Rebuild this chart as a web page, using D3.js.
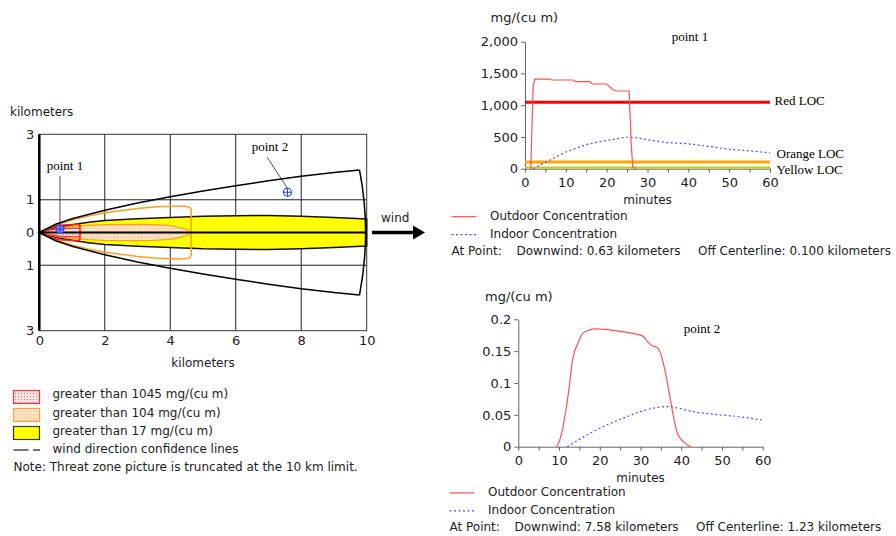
<!DOCTYPE html>
<html>
<head>
<meta charset="utf-8">
<script src="https://cdn.jsdelivr.net/npm/d3@7"></script>
<style>
body { margin: 0; background: #fff; }
svg { display: block; }
text { font-family: "DejaVu Sans", sans-serif; fill: #222; }
.serif { font-family: "Liberation Serif", "Times New Roman", serif; font-size: 13px; fill: #000; }
</style>
</head>
<body>
<svg id="chart" width="896" height="536"></svg>
<script>
// threat zone map (km)
const kmTicks = [0, 2, 4, 6, 8, 10];
const crossTicks = [-3, -1, 0, 1, 3];
const gridX = [2, 4, 6, 8];
const gridY = [-1, 1];
const confX = [0, 0.5, 1, 2, 3, 4, 5, 6, 7, 8, 9, 9.78];
const confY = [0, 0.25, 0.42, 0.68, 0.9, 1.09, 1.27, 1.43, 1.58, 1.72, 1.83, 1.91];
const yellowX = [0, 0.3, 0.6, 1, 1.5, 2, 3, 4, 5, 6, 7, 8, 9, 10];
const yellowY = [0, 0.1, 0.17, 0.24, 0.31, 0.37, 0.42, 0.46, 0.5, 0.51, 0.52, 0.5, 0.46, 0.41];
const orangeOutX = [0, 0.5, 1, 1.5, 2, 3, 3.5, 4, 4.45, 4.6, 4.64];
const orangeOutY = [0, 0.22, 0.38, 0.5, 0.6, 0.73, 0.78, 0.8, 0.8, 0.77, 0.7];
const orangeInX = [0, 0.5, 1, 1.5, 2, 3, 3.5, 4, 4.3, 4.55, 4.64];
const orangeInY = [0, 0.12, 0.18, 0.22, 0.24, 0.25, 0.24, 0.21, 0.15, 0.07, 0];
const redOutX = [0, 0.2, 0.4, 0.6, 0.9, 1.2, 1.24];
const redOutY = [0, 0.1, 0.17, 0.22, 0.24, 0.25, 0.22];
const redInX = [0, 0.3, 0.6, 1, 1.22, 1.24];
const redInY = [0, 0.07, 0.11, 0.13, 0.13, 0.1];
const pointNames = ['point 1', 'point 2'];
const pointDown = [0.63, 7.58];
const pointOff = [0.1, 1.23];

// point 1 concentration (mg/(cu m))
const out1T = [1.4, 2.0, 2.4, 6.1, 6.5, 11.8, 12.4, 15.9, 16.5, 20.0, 21.6, 22.2, 25.5, 26.0, 26.4, 27.2];
const out1V = [0, 1300, 1412, 1412, 1397, 1397, 1370, 1370, 1334, 1334, 1240, 1224, 1224, 400, 30, 0];
const in1T = [2.0, 5, 10, 15, 20, 24.5, 26, 28.6, 30, 35, 40, 45, 50, 55, 60];
const in1V = [0, 100, 263, 380, 445, 495, 497, 474, 455, 410, 392, 352, 305, 280, 252];
const locNames = ['Red LOC', 'Orange LOC', 'Yellow LOC'];
const locValues = [1045, 104, 17];

// point 2 concentration
const out2T = [9.4, 10.3, 11.7, 12.5, 13.3, 14.6, 15.8, 17.4, 19.1, 24, 28, 30.5, 32, 33, 34, 35, 36, 37.2, 38.1, 39, 40.5, 42.3];
const out2V = [0, 0.013, 0.058, 0.094, 0.136, 0.162, 0.178, 0.183, 0.185, 0.182, 0.178, 0.174, 0.163, 0.158, 0.156, 0.145, 0.12, 0.079, 0.047, 0.022, 0.008, 0];
const in2T = [12, 17.6, 21.7, 26.6, 31.5, 36.4, 38, 43, 48, 54.4, 59.7];
const in2V = [0, 0.021, 0.034, 0.047, 0.058, 0.063, 0.062, 0.055, 0.051, 0.047, 0.042];

const legendLabels = ['greater than 1045 mg/(cu m)', 'greater than 104 mg/(cu m)', 'greater than 17 mg/(cu m)',
  'wind direction confidence lines', 'Note: Threat zone picture is truncated at the 10 km limit.'];

const svg = d3.select('#chart');

// fill patterns
const defs = svg.append('defs');
function dots(id, bg, dot) {
  const p = defs.append('pattern').attr('id', id).attr('patternUnits', 'userSpaceOnUse')
    .attr('width', 3).attr('height', 3);
  p.append('rect').attr('width', 3).attr('height', 3).attr('fill', bg);
  p.append('rect').attr('width', 1).attr('height', 1).attr('fill', dot);
}
dots('redDots', '#ffe6e6', '#ff6b6b');
dots('orangeDots', '#ffe2c4', '#ffb77a');

// ---------- map ----------
const xMap = d3.scaleLinear().domain([0, 10]).range([39.3, 366.7]);
const yMap = d3.scaleLinear().domain([-3, 3]).range([330.7, 134.3]);
const map = svg.append('g');

map.selectAll('.gx').data(gridX).join('line')
  .attr('x1', d => xMap(d)).attr('x2', d => xMap(d))
  .attr('y1', yMap(3)).attr('y2', yMap(-3)).attr('stroke', '#222');
map.selectAll('.gy').data(gridY).join('line')
  .attr('x1', xMap(0)).attr('x2', xMap(10))
  .attr('y1', d => yMap(d)).attr('y2', d => yMap(d)).attr('stroke', '#222');
map.append('rect').attr('x', xMap(0)).attr('y', yMap(3))
  .attr('width', xMap(10) - xMap(0)).attr('height', yMap(-3) - yMap(3))
  .attr('fill', 'none').attr('stroke', '#333');

const line = d3.line().x(d => xMap(d[0])).y(d => yMap(d[1]));
function band(xs, ys) {
  const up = xs.map((x, i) => [x, ys[i]]);
  const down = xs.map((x, i) => [x, -ys[i]]).reverse();
  return line(up.concat(down)) + 'Z';
}

map.append('path').attr('d', band(yellowX, yellowY))
  .attr('fill', '#ffff00').attr('stroke', '#111').attr('stroke-width', 1.5);
map.append('path').attr('d', band(orangeOutX, orangeOutY))
  .attr('fill', 'none').attr('stroke', '#ff9f1c').attr('stroke-width', 1.5);
map.append('path').attr('d', band(orangeInX, orangeInY))
  .attr('fill', 'url(#orangeDots)').attr('stroke', '#ff9f1c').attr('stroke-width', 1.2);
map.append('path').attr('d', band(redOutX, redOutY))
  .attr('fill', 'none').attr('stroke', '#ff1a1a').attr('stroke-width', 1.5);
map.append('path').attr('d', band(redInX, redInY))
  .attr('fill', 'url(#redDots)').attr('stroke', '#ff1a1a').attr('stroke-width', 1.2);

// centerline
map.append('line').attr('x1', xMap(0)).attr('x2', xMap(10))
  .attr('y1', yMap(0)).attr('y2', yMap(0)).attr('stroke', '#000').attr('stroke-width', 2);

// confidence lines + 10 km arc
const upper = confX.map((x, i) => [x, confY[i]]);
const lower = confX.map((x, i) => [x, -confY[i]]);
map.append('path').attr('d', line(upper)).attr('fill', 'none').attr('stroke', '#000').attr('stroke-width', 1.5);
map.append('path').attr('d', line(lower)).attr('fill', 'none').attr('stroke', '#000').attr('stroke-width', 1.5);
const endX = confX[confX.length - 1], endY = confY[confY.length - 1];
const rPx = xMap(Math.hypot(endX, endY)) - xMap(0);
map.append('path')
  .attr('d', `M${xMap(endX)},${yMap(endY)} A${rPx},${rPx} 0 0 1 ${xMap(endX)},${yMap(-endY)}`)
  .attr('fill', 'none').attr('stroke', '#000').attr('stroke-width', 1.5);

// axes
map.append('line').attr('x1', xMap(0)).attr('x2', xMap(0))
  .attr('y1', yMap(3)).attr('y2', yMap(-3)).attr('stroke', '#000').attr('stroke-width', 2.5);
const mx = map.append('g').attr('transform', `translate(0,${yMap(-3)})`)
  .call(d3.axisBottom(xMap).tickValues(kmTicks).tickSize(0).tickPadding(5));
const my = map.append('g').attr('transform', `translate(${xMap(0)},0)`)
  .call(d3.axisLeft(yMap).tickValues(crossTicks).tickFormat(d => Math.abs(d)).tickSize(0).tickPadding(5));
[mx, my].forEach(a => {
  a.select('.domain').remove();
  a.selectAll('text').attr('font-size', 13).attr('font-family', '"DejaVu Sans", sans-serif').attr('fill', '#222');
});
map.append('text').attr('x', 10).attr('y', 116).attr('font-size', 12).text('kilometers');
map.append('text').attr('x', (xMap(0) + xMap(10)) / 2).attr('y', 367).attr('text-anchor', 'middle')
  .attr('font-size', 12).text('kilometers');

// points
const labelPos = [[65, 170], [270, 151]];
pointNames.forEach((n, i) => {
  const px = xMap(pointDown[i]), py = yMap(pointOff[i]);
  map.append('line').attr('x1', i === 0 ? px : labelPos[i][0] - 3).attr('y1', labelPos[i][1] + 6)
    .attr('x2', px).attr('y2', py - 4).attr('stroke', '#222').attr('stroke-width', 0.8);
  map.append('circle').attr('cx', px).attr('cy', py).attr('r', 4)
    .attr('fill', i === 0 ? '#8080ff' : 'none').attr('stroke', '#2b3bff').attr('stroke-width', 1.1);
  map.append('path').attr('d', `M${px - 4},${py}H${px + 4}M${px},${py - 4}V${py + 4}`)
    .attr('stroke', '#2b3bff').attr('stroke-width', 1);
  map.append('text').attr('class', 'serif').attr('x', labelPos[i][0]).attr('y', labelPos[i][1])
    .attr('text-anchor', 'middle').text(n);
});

// wind arrow
map.append('text').attr('x', 381).attr('y', 222).attr('font-size', 12).text('wind');
map.append('line').attr('x1', 372).attr('x2', 415).attr('y1', yMap(0)).attr('y2', yMap(0))
  .attr('stroke', '#000').attr('stroke-width', 3.5);
map.append('path').attr('d', `M413,${yMap(0) - 7}L425,${yMap(0)}L413,${yMap(0) + 7}Z`).attr('fill', '#000');

// map legend
const lg = svg.append('g');
const rowY = [397, 415, 433];
const boxFill = ['url(#redDots)', 'url(#orangeDots)', '#ffff00'];
const boxStroke = ['#ff3030', '#ffa040', '#333'];
rowY.forEach((y, i) => {
  lg.append('rect').attr('x', 13.5).attr('y', y - 6.5).attr('width', 26).attr('height', 13)
    .attr('fill', boxFill[i]).attr('stroke', boxStroke[i]).attr('stroke-width', 1.2);
});
lg.append('path').attr('d', 'M13.5,450H28.5M33,450H40').attr('stroke', '#444').attr('stroke-width', 1.3);
const legY = [398, 416.5, 434.5, 452.5, 470.5];
legendLabels.forEach((t, i) => {
  lg.append('text').attr('x', i < 4 ? 52.5 : 13.5).attr('y', legY[i]).attr('font-size', 12).text(t);
});

// ---------- concentration charts ----------
function conc(cfg) {
  const g = svg.append('g');
  const x = d3.scaleLinear().domain([0, 60]).range(cfg.xr);
  const y = d3.scaleLinear().domain([0, cfg.ymax]).range(cfg.yr);
  const ax = g.append('g').attr('transform', `translate(0,${cfg.yr[0]})`)
    .call(d3.axisBottom(x).tickValues(d3.range(0, 61, 5)).tickFormat(d => d % 10 === 0 ? d : '')
      .tickSize(4).tickSizeOuter(0).tickPadding(5));
  const ay = g.append('g').attr('transform', `translate(${cfg.xr[0]},0)`)
    .call(d3.axisLeft(y).tickValues(cfg.yTicks).tickFormat(cfg.fmt).tickSize(4).tickSizeOuter(0).tickPadding(3));
  [ax, ay].forEach(a => {
    a.select('.domain').attr('stroke', '#666');
    a.selectAll('.tick line').attr('stroke', '#666');
    a.selectAll('text').attr('font-size', 13).attr('font-family', '"DejaVu Sans", sans-serif').attr('fill', '#222');
  });
  (cfg.locs || []).forEach((v, i) => {
    g.append('line').attr('x1', cfg.xr[0]).attr('x2', cfg.xr[1]).attr('y1', y(v)).attr('y2', y(v))
      .attr('stroke', cfg.locColors[i]).attr('stroke-width', cfg.locWidths[i]);
    g.append('text').attr('class', 'serif').attr('x', cfg.locLabelX[i]).attr('y', cfg.locLabelY[i]).text(locNames[i]);
  });
  const ln = d3.line().x(d => x(d[0])).y(d => y(d[1])).curve(cfg.curve);
  g.append('path').attr('d', ln(cfg.inT.map((t, i) => [t, cfg.inV[i]])))
    .attr('fill', 'none').attr('stroke', '#4d4dff').attr('stroke-width', 1.2).attr('stroke-dasharray', '2,2.5');
  g.append('path').attr('d', ln(cfg.outT.map((t, i) => [t, cfg.outV[i]])))
    .attr('fill', 'none').attr('stroke', '#ff5050').attr('stroke-width', 1.2);

  const l = cfg.left;
  g.append('text').attr('x', cfg.unitX).attr('y', cfg.unitY).attr('font-size', 13).text('mg/(cu m)');
  g.append('text').attr('x', (cfg.xr[0] + cfg.xr[1]) / 2).attr('y', cfg.yr[0] + 35.5)
    .attr('text-anchor', 'middle').attr('font-size', 12).text('minutes');
  g.append('text').attr('class', 'serif').attr('x', cfg.titleX).attr('y', cfg.titleY)
    .attr('text-anchor', 'middle').text(cfg.title);
  const ly = cfg.yr[0] + 48 + cfg.legendDy;
  g.append('line').attr('x1', l).attr('x2', l + 25).attr('y1', ly).attr('y2', ly)
    .attr('stroke', '#ff5050').attr('stroke-width', 1.2);
  g.append('text').attr('x', l + 38.5).attr('y', ly + 3).attr('font-size', 12).text('Outdoor Concentration');
  g.append('line').attr('x1', l).attr('x2', l + 25).attr('y1', ly + 18).attr('y2', ly + 18)
    .attr('stroke', '#4d4dff').attr('stroke-width', 1.2).attr('stroke-dasharray', '2,2.5');
  g.append('text').attr('x', l + 38.5).attr('y', ly + 21).attr('font-size', 12).text('Indoor Concentration');
  g.append('text').attr('x', l).attr('y', ly + 38.5).attr('font-size', 12).text('At Point:');
  g.append('text').attr('x', l + 65).attr('y', ly + 38.5).attr('font-size', 12).text(cfg.down);
  g.append('text').attr('x', l + 246.5).attr('y', ly + 38.5).attr('font-size', 12).text(cfg.off);
}

conc({
  xr: [525, 770], yr: [168.7, 41.7], ymax: 2000, yTicks: [0, 500, 1000, 1500, 2000], fmt: d3.format(','),
  outT: out1T, outV: out1V, inT: in1T, inV: in1V, curve: d3.curveLinear,
  locs: locValues, locColors: ['#ff0000', '#ffa500', '#cccc00'], locWidths: [3, 3, 2],
  locLabelX: [774.5, 776.5, 776.5], locLabelY: [105, 158, 173.5],
  unitX: 490.5, unitY: 22, title: 'point 1', titleX: 690, titleY: 41,
  left: 451.5, legendDy: 0, down: 'Downwind: 0.63 kilometers', off: 'Off Centerline: 0.100 kilometers'
});
conc({
  xr: [518.3, 762.7], yr: [446.7, 319.3], ymax: 0.2, yTicks: [0, 0.05, 0.1, 0.15, 0.2], fmt: d => String(+d.toFixed(2)),
  outT: out2T, outV: out2V, inT: in2T, inV: in2V, curve: d3.curveMonotoneX,
  unitX: 485, unitY: 301, title: 'point 2', titleX: 702, titleY: 333,
  left: 449.5, legendDy: -1.8, down: 'Downwind: 7.58 kilometers', off: 'Off Centerline: 1.23 kilometers'
});
</script>
</body>
</html>
